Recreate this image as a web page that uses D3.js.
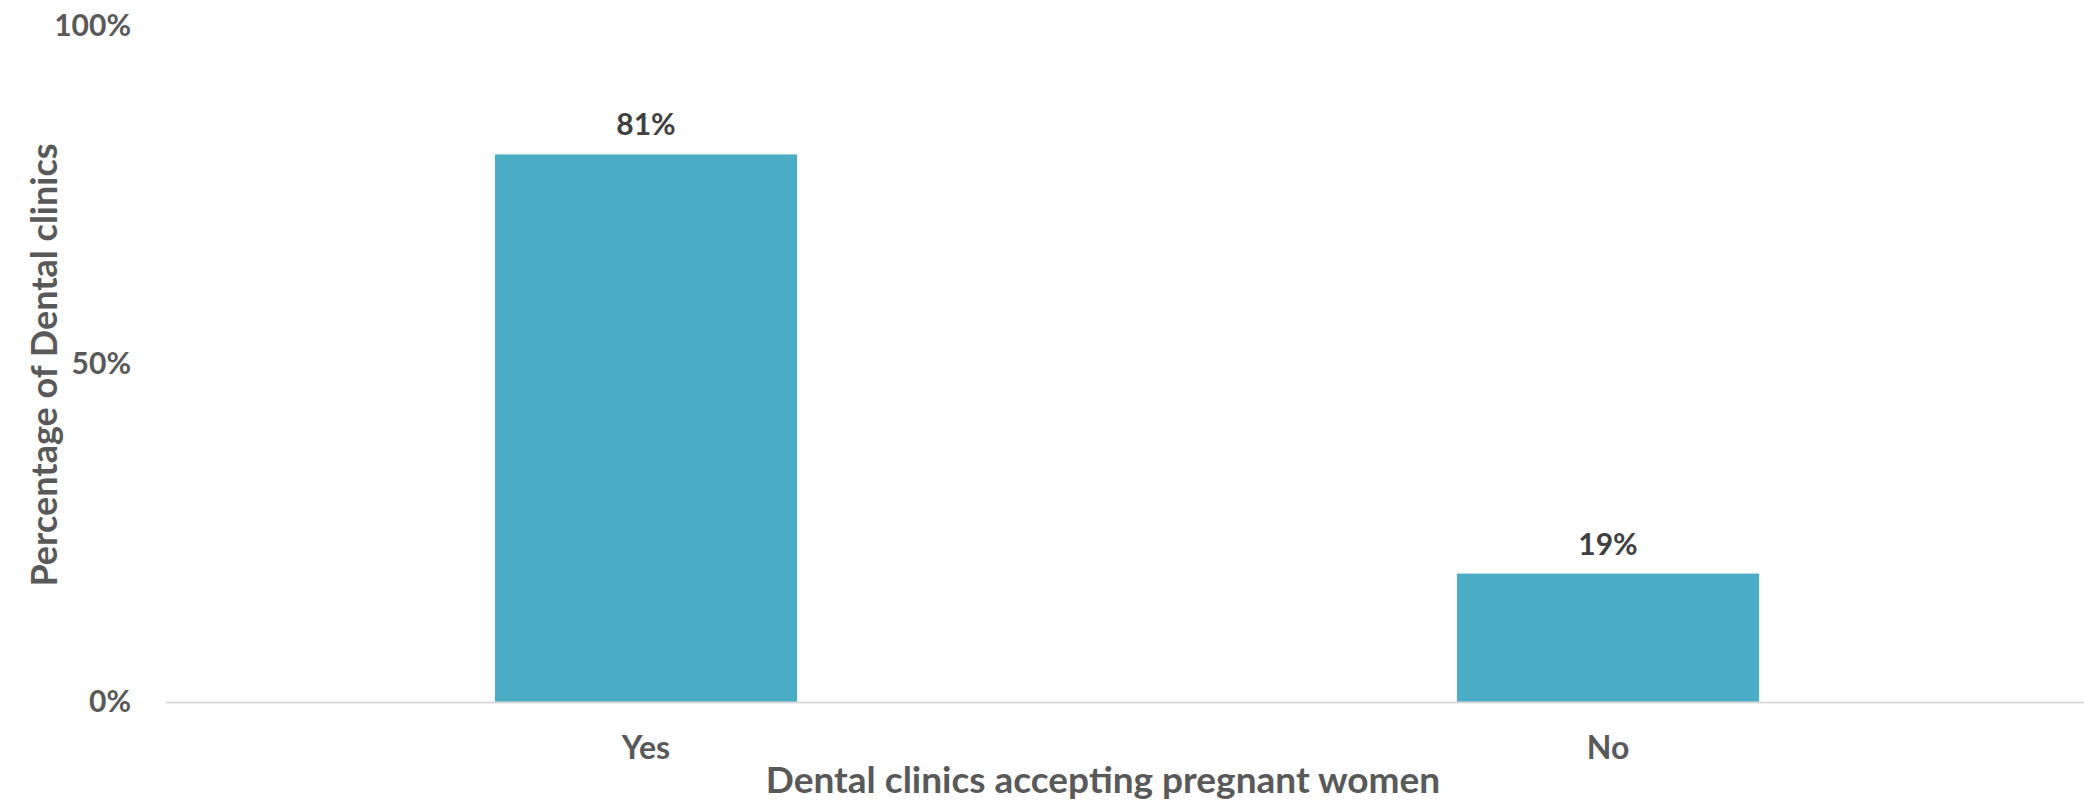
<!DOCTYPE html>
<html><head><meta charset="utf-8">
<script src="https://cdn.jsdelivr.net/npm/d3@7"></script>
<style>body{margin:0;background:#fff}svg{display:block}text{font-family:Lato,"Open Sans",sans-serif;font-weight:bold}</style>
</head><body>
<script>
const categories = ["Yes", "No"];
const values = [81, 19];
const yTicks = [0, 50, 100];
const xTitle = "Dental clinics accepting pregnant women";
const yTitle = "Percentage of Dental clinics";

const W = 2084, H = 802;
const svg = d3.select("body").append("svg").attr("width", W).attr("height", H);
const x = d3.scaleBand().domain(categories).range([165, 2089]).paddingInner(0.686).paddingOuter(0.343);
const y = d3.scaleLinear().domain([0, 100]).range([702, 26]);

svg.append("g").selectAll("rect").data(values).join("rect")
  .attr("x", (d, i) => x(categories[i])).attr("width", x.bandwidth())
  .attr("y", d => y(d)).attr("height", d => y(0) - y(d)).attr("fill", "#4BACC6");

const xa = svg.append("g").attr("transform", `translate(0,${y(0)})`)
  .call(d3.axisBottom(x).tickSize(0).tickPadding(34));
xa.select(".domain").attr("stroke", "#d9d9d9").attr("stroke-width", 2);
xa.selectAll("text").attr("font-size", 32).attr("fill", "#595959").attr("font-family", "Lato").attr("font-weight", "bold");

const ya = svg.append("g").attr("transform", "translate(131,0)")
  .call(d3.axisLeft(y).tickValues(yTicks).tickFormat(d => d + "%").tickSize(0).tickPadding(0));
ya.select(".domain").remove();
ya.selectAll("text").attr("font-size", 30).attr("fill", "#595959").attr("font-family", "Lato").attr("font-weight", "bold");

svg.append("g").selectAll("text").data(values).join("text")
  .attr("x", (d, i) => x(categories[i]) + x.bandwidth() / 2)
  .attr("y", d => y(d) - 19).attr("text-anchor", "middle")
  .attr("font-size", 30).attr("fill", "#404040").text(d => d + "%");

svg.append("text").attr("x", 1103).attr("y", 793).attr("text-anchor", "middle")
  .attr("font-size", 37).attr("fill", "#595959").text(xTitle);
svg.append("text").attr("transform", "translate(57,365) rotate(-90)").attr("text-anchor", "middle")
  .attr("font-size", 36).attr("fill", "#595959").text(yTitle);
</script>
</body></html>
